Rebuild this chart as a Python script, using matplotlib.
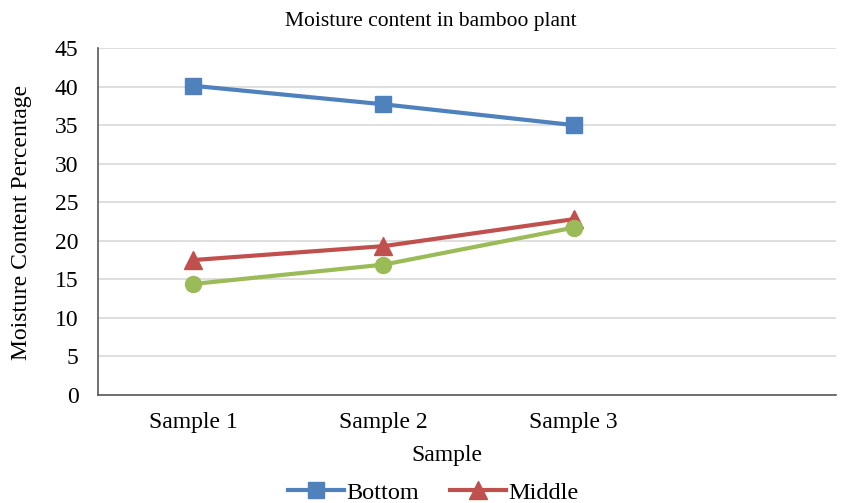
import matplotlib.pyplot as plt

samples = ['Sample 1', 'Sample 2', 'Sample 3']
bottom = [40.1, 37.7, 35.0]
middle = [17.5, 19.3, 22.8]
top = [14.4, 16.9, 21.7]

plt.rcParams['font.family'] = ['Liberation Serif', 'DejaVu Serif']

fig = plt.figure(figsize=(8.49, 5.03), dpi=100)
ax = fig.add_axes([0.1154, 0.2147, 0.8693, 0.6899])

x = range(len(samples))
l1, = ax.plot(x, bottom, color='#4F81BD', lw=3, marker='s', ms=12, label='Bottom')
l2, = ax.plot(x, middle, color='#C0504D', lw=3, marker='^', ms=13, label='Middle')
l3, = ax.plot(x, top, color='#9BBB59', lw=3, marker='o', ms=11.5, label='Top')

ax.set_xlim(-0.5, 3.38)
ax.set_ylim(0, 45)
ax.set_yticks(range(0, 46, 5))
ax.set_xticks(list(x))
ax.set_xticklabels(samples)
ax.tick_params(axis='both', length=0, labelsize=17)
ax.tick_params(axis='x', pad=12)
ax.tick_params(axis='y', pad=14)

ax.grid(axis='y', color='#D9D9D9', lw=1.2)
ax.set_axisbelow(True)
for s in ['top', 'right']:
    ax.spines[s].set_visible(False)
for s in ['left', 'bottom']:
    ax.spines[s].set_color('#595959')
    ax.spines[s].set_linewidth(1.2)

fig.text(0.508, 0.957, 'Moisture content in bamboo plant', fontsize=15.5, ha='center', va='center')
fig.text(0.5265, 0.0954, 'Sample', fontsize=17, ha='center', va='center')
fig.text(0.025, 0.5586, 'Moisture Content Percentage', fontsize=17, rotation=90,
         ha='center', va='center')

fig.legend(handles=[l1, l2], loc='center', bbox_to_anchor=(0.51, 0.02),
           ncol=2, frameon=False, fontsize=17.5, handlelength=2.3, columnspacing=1.27,
           handletextpad=0.1)

fig.savefig('out.png', dpi=100)
